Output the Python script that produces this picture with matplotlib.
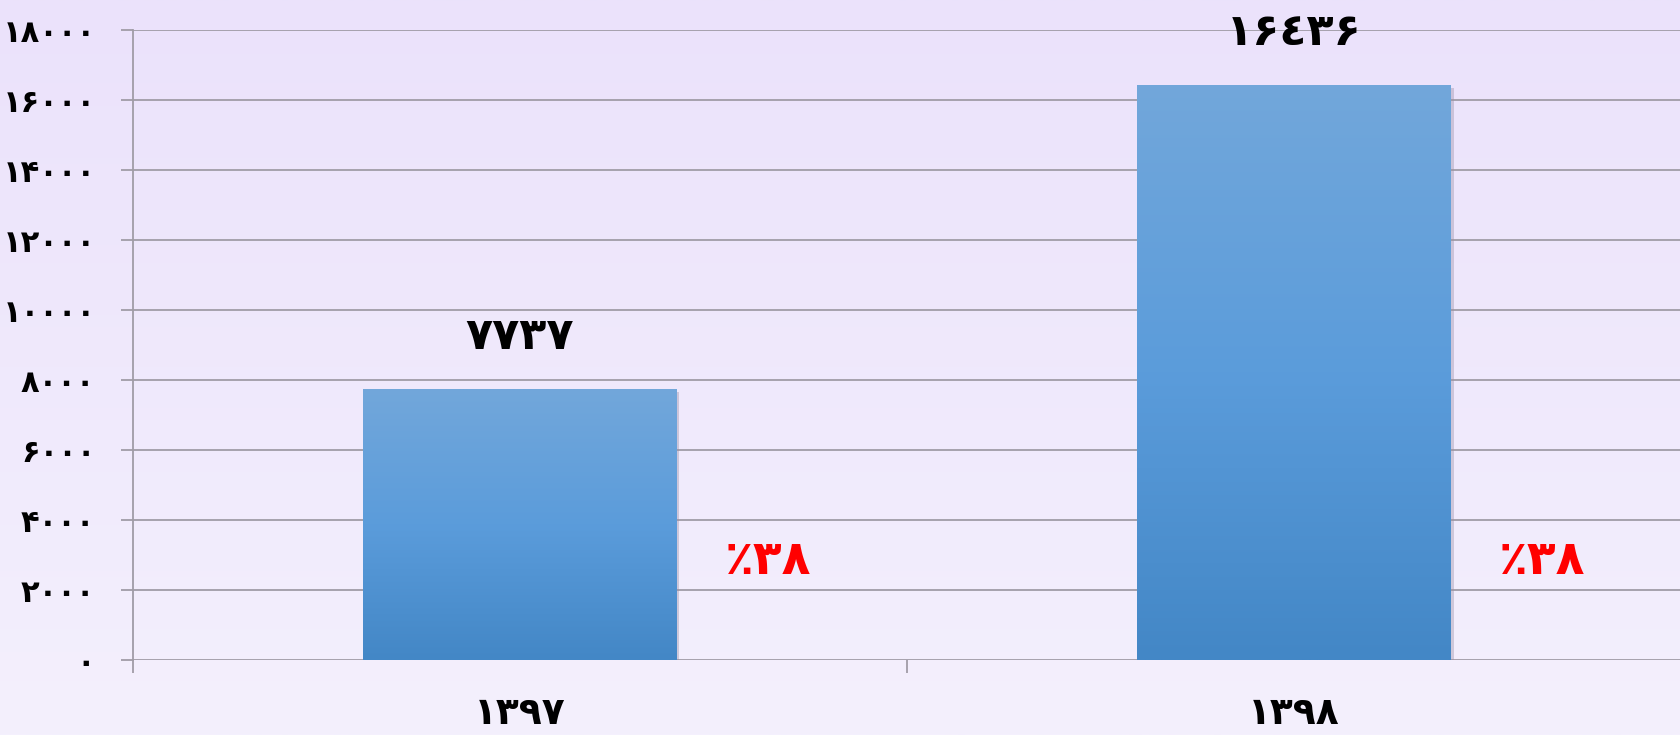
import numpy as np
import matplotlib
matplotlib.use('Agg')
import matplotlib.pyplot as plt
import matplotlib.patheffects as pe
from matplotlib.colors import LinearSegmentedColormap

# data
years = ['۱۳۹۷', '۱۳۹۸']
values = [7737, 16436]
value_labels = ['۷۷۳۷', '۱۶٤۳۶']
pct_labels = ['٪۳۸', '٪۳۸']
yticks = [0, 2000, 4000, 6000, 8000, 10000, 12000, 14000, 16000, 18000]
ytick_labels = ['۰', '۲۰۰۰', '۴۰۰۰', '۶۰۰۰', '۸۰۰۰', '۱۰۰۰۰',
                '۱۲۰۰۰', '۱۴۰۰۰', '۱۶۰۰۰', '۱۸۰۰۰']

plt.rcParams['font.family'] = ['DejaVu Sans']
plt.rcParams['font.weight'] = 'bold'

fig = plt.figure(figsize=(16.81, 7.35), dpi=100)

# lavender background gradient
bg = fig.add_axes([0, 0, 1, 1], zorder=-10)
bg_cmap = LinearSegmentedColormap.from_list('bg', ['#ebe2fb', '#f4f0fd'])
bg.imshow(np.linspace(0, 1, 256).reshape(-1, 1), aspect='auto', cmap=bg_cmap,
          extent=[0, 1, 0, 1])
bg.axis('off')

ax = fig.add_axes([0.0791, 0.102, 0.9209, 0.857])
ax.set_facecolor('none')

x = np.arange(len(years))
bars = ax.bar(x, values, width=0.405, color='#5a9ad8', zorder=3,
              path_effects=[pe.SimplePatchShadow(offset=(2, -2), shadow_rgbFace='#9a90a8', alpha=0.4),
                            pe.Normal()])

# vertical gradient inside the bars
bar_cmap = LinearSegmentedColormap.from_list('bar', ['#4387c6', '#5b9cdb', '#72a7da'])
for b in bars:
    im = ax.imshow(np.linspace(0, 1, 256).reshape(-1, 1), aspect='auto', cmap=bar_cmap,
                   origin='lower', extent=[b.get_x(), b.get_x() + b.get_width(), 0, b.get_height()],
                   zorder=4)
    im.set_clip_path(b)

ax.set_xlim(-0.5, 1.5)
ax.set_ylim(0, 18000)

ax.set_yticks(yticks)
ax.set_yticklabels(ytick_labels, fontsize=22, fontweight='bold')
ax.tick_params(axis='y', length=9, width=1.3, color='#a09ca6', pad=18)
ax.yaxis.grid(True, color='#a09ca6', linewidth=1.3, zorder=0)
ax.set_axisbelow(True)

ax.set_xticks([-0.5, 0.5, 1.5])
ax.set_xticklabels([])
ax.tick_params(axis='x', which='major', length=9, width=1.3, color='#a09ca6')
ax.set_xticks(x, minor=True)
ax.set_xticklabels(years, minor=True, fontsize=27, fontweight='bold')
ax.tick_params(axis='x', which='minor', length=0, pad=26)

for s in ['top', 'right', 'bottom']:
    ax.spines[s].set_visible(False)
ax.spines['left'].set_color('#a09ca6')
ax.spines['left'].set_linewidth(1.3)

for i, v in enumerate(values):
    ax.annotate(value_labels[i], (x[i], v), xytext=(0, 38), textcoords='offset points',
                ha='center', va='center', fontsize=32, fontweight='bold', color='black')
    ax.text(x[i] + 0.32, 0.156, pct_labels[i], transform=ax.get_xaxis_transform(),
            ha='center', va='center', fontsize=34, fontweight='bold', color='#ff0000')

fig.savefig('out.png', dpi=100)
